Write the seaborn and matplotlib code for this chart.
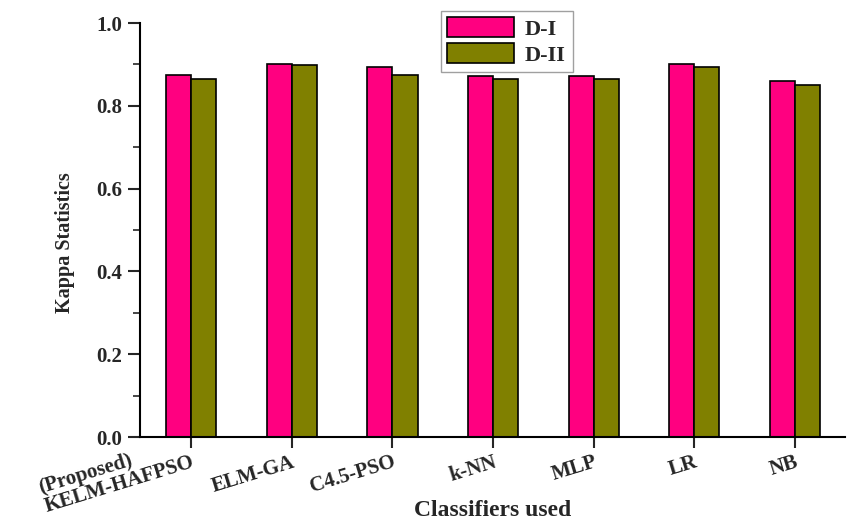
import matplotlib
matplotlib.use("Agg")
import matplotlib.pyplot as plt
from matplotlib.ticker import MultipleLocator, FormatStrFormatter
import pandas as pd
import seaborn as sns

# values
classifiers = ["(Proposed)\nKELM-HAFPSO", "ELM-GA", "C4.5-PSO", "k-NN", "MLP", "LR", "NB"]
d1 = [0.874, 0.900, 0.893, 0.872, 0.873, 0.900, 0.860]
d2 = [0.866, 0.898, 0.874, 0.866, 0.866, 0.894, 0.851]

df = pd.DataFrame({
    "clf": classifiers * 2,
    "kappa": d1 + d2,
    "set": ["D-I"] * len(d1) + ["D-II"] * len(d2),
})

sns.set_style("white")
plt.rcParams["font.family"] = ["Liberation Serif", "DejaVu Serif"]
plt.rcParams["font.weight"] = "bold"

fig = plt.figure(figsize=(8.47, 5.24), dpi=100)
ax = fig.add_axes([0.165, 0.166, 0.833, 0.790])

sns.barplot(data=df, x="clf", y="kappa", hue="set", order=classifiers,
            palette={"D-I": "#FF0080", "D-II": "#808000"}, saturation=1,
            width=0.5, edgecolor="black", linewidth=1.2, ax=ax)

ax.set_ylim(0, 1.0)
ax.set_xlim(-0.51, 6.5)
ax.yaxis.set_major_locator(MultipleLocator(0.2))
ax.yaxis.set_minor_locator(MultipleLocator(0.1))
ax.yaxis.set_major_formatter(FormatStrFormatter("%.1f"))
sns.despine(ax=ax)
for s in ["left", "bottom"]:
    ax.spines[s].set_linewidth(1.5)
    ax.spines[s].set_color("black")
ax.tick_params(axis="y", which="major", direction="out", length=9, width=1.5, left=True, labelsize=15)
ax.tick_params(axis="y", which="minor", direction="out", length=5, width=1.2, left=True)
ax.tick_params(axis="x", which="major", direction="out", length=8, width=1.5, bottom=True,
               labelsize=15, pad=3)
for lab in ax.get_xticklabels():
    lab.set_rotation(17)
    lab.set_ha("right")
    # the two-line label sits higher, its second line level with the others
    lab.set_va("center" if "\n" in lab.get_text() else "top")
    lab.set_multialignment("left")
    lab.set_rotation_mode("anchor")
    lab.set_fontweight("bold")
    lab.set_linespacing(0.95)
for lab in ax.get_yticklabels():
    lab.set_fontweight("bold")

ax.set_xlabel("Classifiers used", fontsize=17, fontweight="bold")
ax.xaxis.set_label_coords(0.5, -0.152)
ax.set_ylabel("Kappa Statistics", fontsize=14.5, fontweight="bold")
ax.yaxis.set_label_coords(-0.092, 0.47)

leg = ax.legend(loc="upper center", bbox_to_anchor=(0.52, 1.057), frameon=True,
                fancybox=False, edgecolor="#888888", handlelength=3.0, handleheight=1.0,
                prop={"weight": "bold", "size": 16}, borderpad=0.3, labelspacing=0.15,
                handletextpad=0.5)
leg.get_frame().set_linewidth(1.0)

fig.savefig("out.png", dpi=100)
